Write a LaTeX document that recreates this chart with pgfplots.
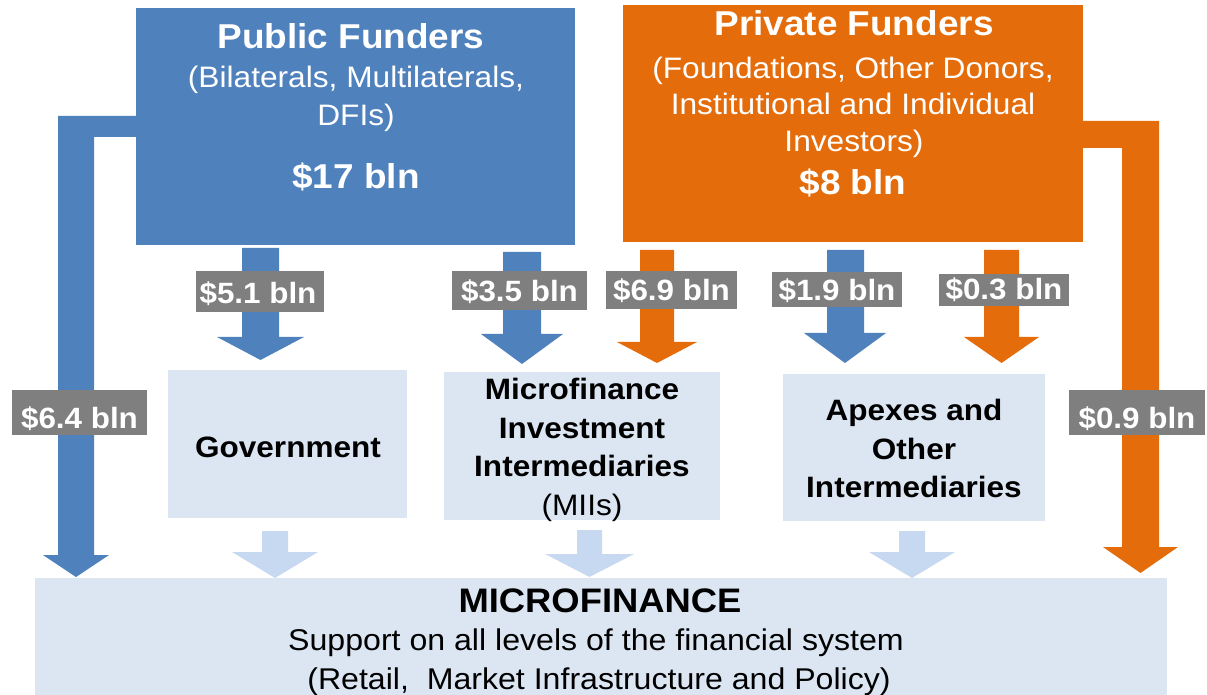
\documentclass[border=0pt]{standalone}
\usepackage{pgfplots}
\pgfplotsset{compat=1.18}
\usepackage{fontspec}
\usepackage{graphicx}
\setmainfont{Liberation Sans}
\definecolor{pubblue}{HTML}{4F81BD}
\definecolor{privorange}{HTML}{E46C0A}
\definecolor{lblgray}{HTML}{7F7F7F}
\definecolor{lightbox}{HTML}{DCE6F2}
\definecolor{lightarrow}{HTML}{C6D9F1}
\newcommand\sx[1]{\scalebox{1.07}[1]{#1}}
\newcommand\ftitle{\fontsize{25.9}{30}\bfseries\selectfont}
\newcommand\fsub{\fontsize{22.2}{27}\selectfont}
\newcommand\flbl{\fontsize{22}{27}\bfseries\selectfont}
\newcommand\fbx{\fontsize{22.1}{27}\bfseries\selectfont}
\newcommand\fmicro{\fontsize{25.5}{30}\bfseries\selectfont}
\newcommand\fsup{\fontsize{22.5}{27}\selectfont}
\tikzset{txt/.style={inner sep=0pt, anchor=base}}
\begin{document}
\begin{tikzpicture}
\begin{axis}[
  scale only axis, width=905.25pt, height=521.25pt,
  xmin=0, xmax=1207, ymin=0, ymax=695, y dir=reverse,
  hide axis, clip=false,
  every axis plot/.append style={draw=none},
]
% ---- light boxes ----
\addplot[fill=lightbox] coordinates {(168,370)(407,370)(407,518)(168,518)} -- cycle;
\addplot[fill=lightbox] coordinates {(444,372)(720,372)(720,520)(444,520)} -- cycle;
\addplot[fill=lightbox] coordinates {(783,374)(1045,374)(1045,521)(783,521)} -- cycle;
\addplot[fill=lightbox] coordinates {(35,578)(1167,578)(1167,695)(35,695)} -- cycle;
% ---- elbow arrows ----
\addplot[fill=pubblue] coordinates {(140,116)(58,116)(58,555)(43,555)(76,577)(109,555)(94,555)(94,137)(140,137)} -- cycle;
\addplot[fill=privorange] coordinates {(1079,121)(1159,121)(1159,547)(1178,547)(1140.5,573)(1103,547)(1122,547)(1122,148)(1079,148)} -- cycle;
% ---- funder boxes ----
\addplot[fill=pubblue] coordinates {(136,8)(575,8)(575,245)(136,245)} -- cycle;
\addplot[fill=privorange] coordinates {(623,5)(1083,5)(1083,242)(623,242)} -- cycle;
% ---- down arrows ----
\addplot[fill=pubblue] coordinates {(242,248)(279,248)(279,337)(304,337)(260.5,360)(217,337)(242,337)} -- cycle;
\addplot[fill=pubblue] coordinates {(503,252)(541,252)(541,334)(563,334)(522,364)(481,334)(503,334)} -- cycle;
\addplot[fill=privorange] coordinates {(640,250)(674,250)(674,342)(697,342)(657,363)(617,342)(640,342)} -- cycle;
\addplot[fill=pubblue] coordinates {(827,250)(864,250)(864,333)(886,333)(845,363)(804,333)(827,333)} -- cycle;
\addplot[fill=privorange] coordinates {(984,250)(1019,250)(1019,337)(1039,337)(1001.5,363)(964,337)(984,337)} -- cycle;
% ---- light arrows ----
\addplot[fill=lightarrow] coordinates {(262,531)(288,531)(288,552)(318,552)(275,578)(232,552)(262,552)} -- cycle;
\addplot[fill=lightarrow] coordinates {(577,530)(602,530)(602,554)(634,554)(589.5,577)(545,554)(577,554)} -- cycle;
\addplot[fill=lightarrow] coordinates {(899,531)(925,531)(925,552)(955,552)(912,578)(869,552)(899,552)} -- cycle;
% ---- gray labels ----
\addplot[fill=lblgray] coordinates {(196,271)(324,271)(324,312)(196,312)} -- cycle;
\addplot[fill=lblgray] coordinates {(452,271)(587,271)(587,310)(452,310)} -- cycle;
\addplot[fill=lblgray] coordinates {(606,271)(737,271)(737,309)(606,309)} -- cycle;
\addplot[fill=lblgray] coordinates {(772,272)(902,272)(902,307)(772,307)} -- cycle;
\addplot[fill=lblgray] coordinates {(939,274)(1069,274)(1069,306)(939,306)} -- cycle;
\addplot[fill=lblgray] coordinates {(12,390)(147,390)(147,435)(12,435)} -- cycle;
\addplot[fill=lblgray] coordinates {(1069,390)(1205,390)(1205,435)(1069,435)} -- cycle;
% ---- label texts ----
\node[txt, text=white] at (axis cs:258,304) {\flbl\sx{\$5.1 bln}};
\node[txt, text=white] at (axis cs:519.5,302) {\flbl\sx{\$3.5 bln}};
\node[txt, text=white] at (axis cs:671.5,301) {\flbl\sx{\$6.9 bln}};
\node[txt, text=white] at (axis cs:837,301) {\flbl\sx{\$1.9 bln}};
\node[txt, text=white] at (axis cs:1004,300) {\flbl\sx{\$0.3 bln}};
\node[txt, text=white] at (axis cs:79.5,428) {\flbl\sx{\$6.4 bln}};
\node[txt, text=white] at (axis cs:1137,428) {\flbl\sx{\$0.9 bln}};
% ---- public ----
\node[txt, text=white] at (axis cs:351,49) {\ftitle\sx{Public Funders}};
\node[txt, text=white] at (axis cs:356,88) {\fsub\sx{(Bilaterals, Multilaterals,}};
\node[txt, text=white] at (axis cs:356,126) {\fsub\sx{DFIs)}};
\node[txt, text=white] at (axis cs:356,189) {\ftitle\sx{\$17 bln}};
% ---- private ----
\node[txt, text=white] at (axis cs:854,36) {\ftitle\sx{Private Funders}};
\node[txt, text=white] at (axis cs:853,79) {\fsub\sx{(Foundations, Other Donors,}};
\node[txt, text=white] at (axis cs:853,115) {\fsub\sx{Institutional and Individual}};
\node[txt, text=white] at (axis cs:854,152) {\fsub\sx{Investors)}};
\node[txt, text=white] at (axis cs:853,195) {\ftitle\sx{\$8 bln}};
% ---- middle boxes ----
\node[txt] at (axis cs:288,457) {\fbx\sx{Government}};
\node[txt] at (axis cs:582,399) {\fbx\sx{Microfinance}};
\node[txt] at (axis cs:582,438) {\fbx\sx{Investment}};
\node[txt] at (axis cs:582,476) {\fbx\sx{Intermediaries}};
\node[txt] at (axis cs:582,515) {\fsub\sx{(MIIs)}};
\node[txt] at (axis cs:914,421) {\fbx\sx{Apexes and}};
\node[txt] at (axis cs:914,459) {\fbx\sx{Other}};
\node[txt] at (axis cs:914,497) {\fbx\sx{Intermediaries}};
% ---- bottom ----
\node[txt] at (axis cs:600,612) {\fmicro\sx{MICROFINANCE}};
\node[txt] at (axis cs:596,650) {\fsup\sx{Support on all levels of the financial system}};
\node[txt] at (axis cs:599,689) {\fsup\sx{(Retail,\ \ Market Infrastructure and Policy)}};
\end{axis}
\pgfresetboundingbox
\path (current axis.south west) rectangle (current axis.north east);
\end{tikzpicture}
\end{document}
